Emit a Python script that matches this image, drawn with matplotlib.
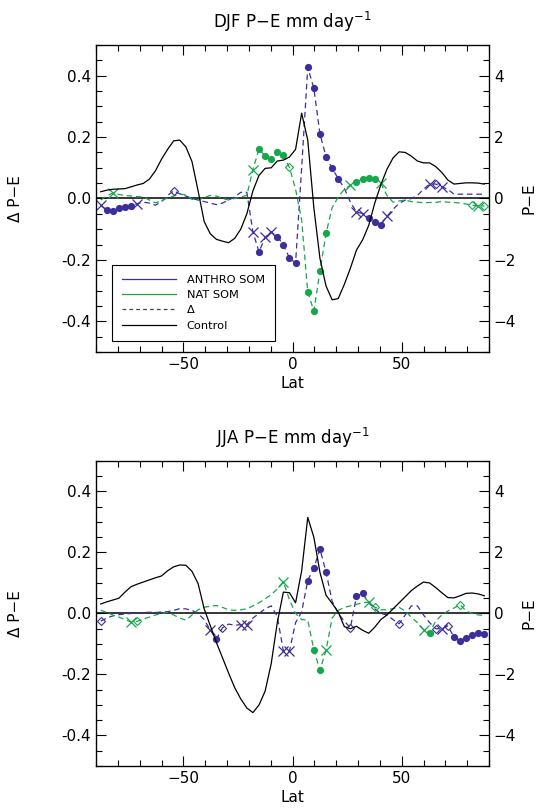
import numpy as np
import matplotlib
matplotlib.use("Agg")
import matplotlib.pyplot as plt
from matplotlib.lines import Line2D
from matplotlib.ticker import MultipleLocator

# ── Data ──────────────────────────────────────────────────────────────────────
# T42 Gaussian latitudes (northern half), mirrored for the south
LAT_NH = [1.40, 4.19, 6.98, 9.77, 12.56, 15.35, 18.14, 20.93, 23.72, 26.51,
          29.30, 32.09, 34.88, 37.67, 40.46, 43.25, 46.04, 48.84, 51.63, 54.42,
          57.21, 60.00, 62.79, 65.58, 68.37, 71.16, 73.95, 76.74, 79.53, 82.31,
          85.10, 87.86]
lat = np.array([-v for v in LAT_NH[::-1]] + LAT_NH)

# DJF  (Δ P-E, left axis; control P-E mm/day, right axis)
djf_anthro = [-0.022, -0.038, -0.040, -0.030, -0.027, -0.024, -0.017, -0.012,
              -0.015, -0.022, -0.010, 0.010, 0.025, 0.015, 0.008, 0.000,
              -0.005, -0.010, -0.015, -0.020, -0.015, -0.005, 0.005, 0.020,
              0.020, -0.109, -0.174, -0.127, -0.109, -0.125, -0.150, -0.194,
              -0.210, 0.100, 0.427, 0.359, 0.211, 0.136, 0.098, 0.065,
              0.033, -0.012, -0.044, -0.049, -0.063, -0.076, -0.085, -0.058,
              -0.035, -0.016, -0.005, 0.000, 0.010, 0.030, 0.047, 0.047,
              0.038, 0.030, 0.014, 0.014, 0.014, 0.014, 0.014, 0.014]
djf_anthro_sig = ("xooooox-" "----d---" "--------" "-xoxxooo"
                  "o-oooooo" "--xxooox" "------xd" "x-------")
djf_nat = [-0.005, 0.008, 0.018, 0.013, 0.010, 0.008, 0.006, 0.005,
           -0.005, -0.014, -0.008, 0.002, 0.008, 0.014, 0.012, -0.003,
           -0.005, 0.003, 0.010, 0.008, 0.000, -0.005, 0.000, 0.005,
           0.010, 0.094, 0.161, 0.139, 0.127, 0.150, 0.141, 0.101,
           0.030, -0.070, -0.305, -0.366, -0.237, -0.114, -0.030, 0.005,
           0.030, 0.043, 0.055, 0.063, 0.066, 0.064, 0.049, 0.010,
           -0.012, -0.008, -0.005, -0.010, -0.012, -0.014, -0.013, -0.013,
           -0.010, -0.012, -0.013, -0.015, -0.018, -0.022, -0.024, -0.024]
djf_nat_sig = ("--x-----" "--------" "--------" "-xoooood"
               "--oooo--" "-xoooox-" "--------" "-----dxd")
djf_control = [0.22, 0.27, 0.30, 0.31, 0.32, 0.38, 0.44, 0.49,
               0.63, 0.90, 1.28, 1.60, 1.88, 1.90, 1.68, 1.20,
               0.25, -0.75, -1.15, -1.33, -1.39, -1.44, -1.30, -1.00,
               -0.50, 0.25, 0.75, 0.98, 1.00, 1.22, 1.25, 1.35,
               1.60, 2.78, 1.90, -0.30, -1.95, -2.85, -3.30, -3.26,
               -2.80, -2.27, -1.68, -1.35, -0.88, -0.15, 0.45, 0.95,
               1.32, 1.52, 1.50, 1.38, 1.22, 1.16, 1.16, 1.04,
               0.85, 0.60, 0.47, 0.49, 0.51, 0.51, 0.50, 0.47]

# JJA
jja_anthro = [-0.025, -0.015, -0.008, -0.004, -0.002, 0.000, 0.002, 0.003,
              0.004, 0.003, 0.005, 0.006, 0.010, 0.016, 0.015, 0.010,
              0.000, -0.020, -0.055, -0.084, -0.047, -0.035, -0.038, -0.037,
              -0.037, -0.015, 0.000, 0.015, 0.025, -0.010, -0.123, -0.123,
              -0.030, 0.005, 0.108, 0.149, 0.211, 0.136, 0.040, 0.000,
              -0.025, -0.047, 0.056, 0.067, 0.035, 0.015, 0.000, -0.005,
              -0.020, -0.034, -0.005, 0.025, 0.025, -0.005, -0.030, -0.050,
              -0.050, -0.041, -0.077, -0.090, -0.080, -0.070, -0.064, -0.068]
jja_anthro_sig = ("d-------" "--------" "--xod--x" "x-----xx"
                  "--oooo--" "-doo----" "-d-----d" "xdoooooo")
jja_nat = [0.011, 0.003, -0.005, -0.012, -0.020, -0.028, -0.026, -0.018,
           -0.012, -0.005, 0.000, 0.004, -0.005, -0.015, -0.022, -0.005,
           0.012, 0.020, 0.024, 0.026, 0.020, 0.012, 0.010, 0.012,
           0.015, 0.025, 0.035, 0.048, 0.062, 0.080, 0.104, 0.045,
           0.000, -0.020, -0.022, -0.119, -0.186, -0.121, -0.015, 0.010,
           0.020, 0.025, 0.030, 0.035, 0.037, 0.021, 0.012, 0.012,
           0.016, 0.020, 0.008, -0.012, -0.030, -0.053, -0.064, -0.025,
           -0.005, 0.008, 0.018, 0.029, 0.008, 0.000, -0.005, -0.006]
jja_nat_sig = ("-----xd-" "--------" "--------" "------x-"
               "---oox--" "----xd--" "-----xo-" "---d----")
jja_control = [0.31, 0.38, 0.44, 0.50, 0.70, 0.88, 0.96, 1.03,
               1.10, 1.17, 1.23, 1.40, 1.53, 1.59, 1.58, 1.38,
               0.98, 0.15, -0.40, -0.95, -1.45, -1.95, -2.43, -2.80,
               -3.10, -3.25, -3.00, -2.55, -1.65, -0.30, 0.70, 0.68,
               0.35, 1.40, 3.15, 2.50, 1.35, 0.60, 0.33, 0.05,
               -0.43, -0.50, -0.42, -0.55, -0.65, -0.45, -0.20, -0.05,
               0.15, 0.35, 0.55, 0.75, 0.90, 1.03, 1.00, 0.85,
               0.68, 0.52, 0.51, 0.58, 0.66, 0.67, 0.64, 0.58]

# ── Style ─────────────────────────────────────────────────────────────────────
PURPLE = "#3b2f9c"
GREEN = "#14a84b"
DASH = (0, (4.5, 3))
plt.rcParams["font.family"] = "DejaVu Sans"
plt.rcParams["font.size"] = 11

MARKERS = {
    "o": dict(marker="o", markersize=5.2, markeredgewidth=0),
    "x": dict(marker="x", markersize=7.5, markeredgewidth=0.9),
    "d": dict(marker="D", markersize=4.2, markeredgewidth=0.8, markerfacecolor="none"),
}


def draw_series(ax, y, sig, color):
    y = np.asarray(y)
    ax.plot(lat, y, color=color, lw=0.9, linestyle=DASH, zorder=3)
    for code, kw in MARKERS.items():
        idx = [i for i, c in enumerate(sig) if c == code]
        ax.plot(lat[idx], y[idx], linestyle="none", color=color,
                markeredgecolor=color, zorder=4, **kw)


def draw_panel(rect, title, anthro, anthro_sig, nat, nat_sig, control, legend=False):
    ax = fig.add_axes(rect)
    ax.axhline(0, color="black", lw=1.1, zorder=2)
    draw_series(ax, anthro, anthro_sig, PURPLE)
    draw_series(ax, nat, nat_sig, GREEN)

    ax.set_xlim(-90, 90)
    ax.set_ylim(-0.5, 0.5)
    ax.xaxis.set_major_locator(MultipleLocator(50))
    ax.xaxis.set_minor_locator(MultipleLocator(10))
    ax.yaxis.set_major_locator(MultipleLocator(0.2))
    ax.yaxis.set_minor_locator(MultipleLocator(0.05))
    ax.yaxis.set_major_formatter(plt.FormatStrFormatter("%.1f"))
    ax.tick_params(which="both", direction="in", top=True, right=False, labelsize=11)
    ax.tick_params(which="major", length=7, width=0.8)
    ax.tick_params(which="minor", length=4, width=0.8)
    ax.set_xlabel("Lat", fontsize=11, labelpad=3)
    ax.set_ylabel("Δ P−E", fontsize=11, labelpad=28)
    ax.set_title(title, fontsize=12, pad=12)
    for s in ax.spines.values():
        s.set_linewidth(0.9)

    ax2 = ax.twinx()
    ax2.plot(lat, control, color="black", lw=0.9, zorder=3)
    ax2.set_ylim(-5, 5)
    ax2.yaxis.set_major_locator(MultipleLocator(2))
    ax2.yaxis.set_minor_locator(MultipleLocator(0.5))
    ax2.tick_params(which="both", direction="in", labelsize=11)
    ax2.tick_params(which="major", length=7, width=0.8)
    ax2.tick_params(which="minor", length=4, width=0.8)
    ax2.set_ylabel("P−E", fontsize=11, labelpad=4)

    if legend:
        handles = [
            Line2D([], [], color=PURPLE, lw=0.9),
            Line2D([], [], color=GREEN, lw=0.9),
            Line2D([], [], color="#444444", lw=0.9, linestyle=(0, (3, 2.5))),
            Line2D([], [], color="black", lw=0.9),
        ]
        leg = ax2.legend(handles, ["ANTHRO SOM", "NAT SOM", "Δ", "Control"],
                         loc="lower left", bbox_to_anchor=(0.025, 0.018),
                         fontsize=8.2, handlelength=4.8, handletextpad=0.9,
                         frameon=True, fancybox=False, borderpad=0.9,
                         labelspacing=0.45, framealpha=1)
        leg.get_frame().set_edgecolor("black")
        leg.get_frame().set_linewidth(0.8)
        leg.set_zorder(10)
    return ax


fig = plt.figure(figsize=(5.41, 8.09), dpi=100)
draw_panel([0.1775, 0.5649, 0.7264, 0.3795], "DJF P−E mm day$^{-1}$",
           djf_anthro, djf_anthro_sig, djf_nat, djf_nat_sig, djf_control, legend=True)
draw_panel([0.1775, 0.0532, 0.7264, 0.377], "JJA P−E mm day$^{-1}$",
           jja_anthro, jja_anthro_sig, jja_nat, jja_nat_sig, jja_control)

fig.savefig("out.png", dpi=100)
